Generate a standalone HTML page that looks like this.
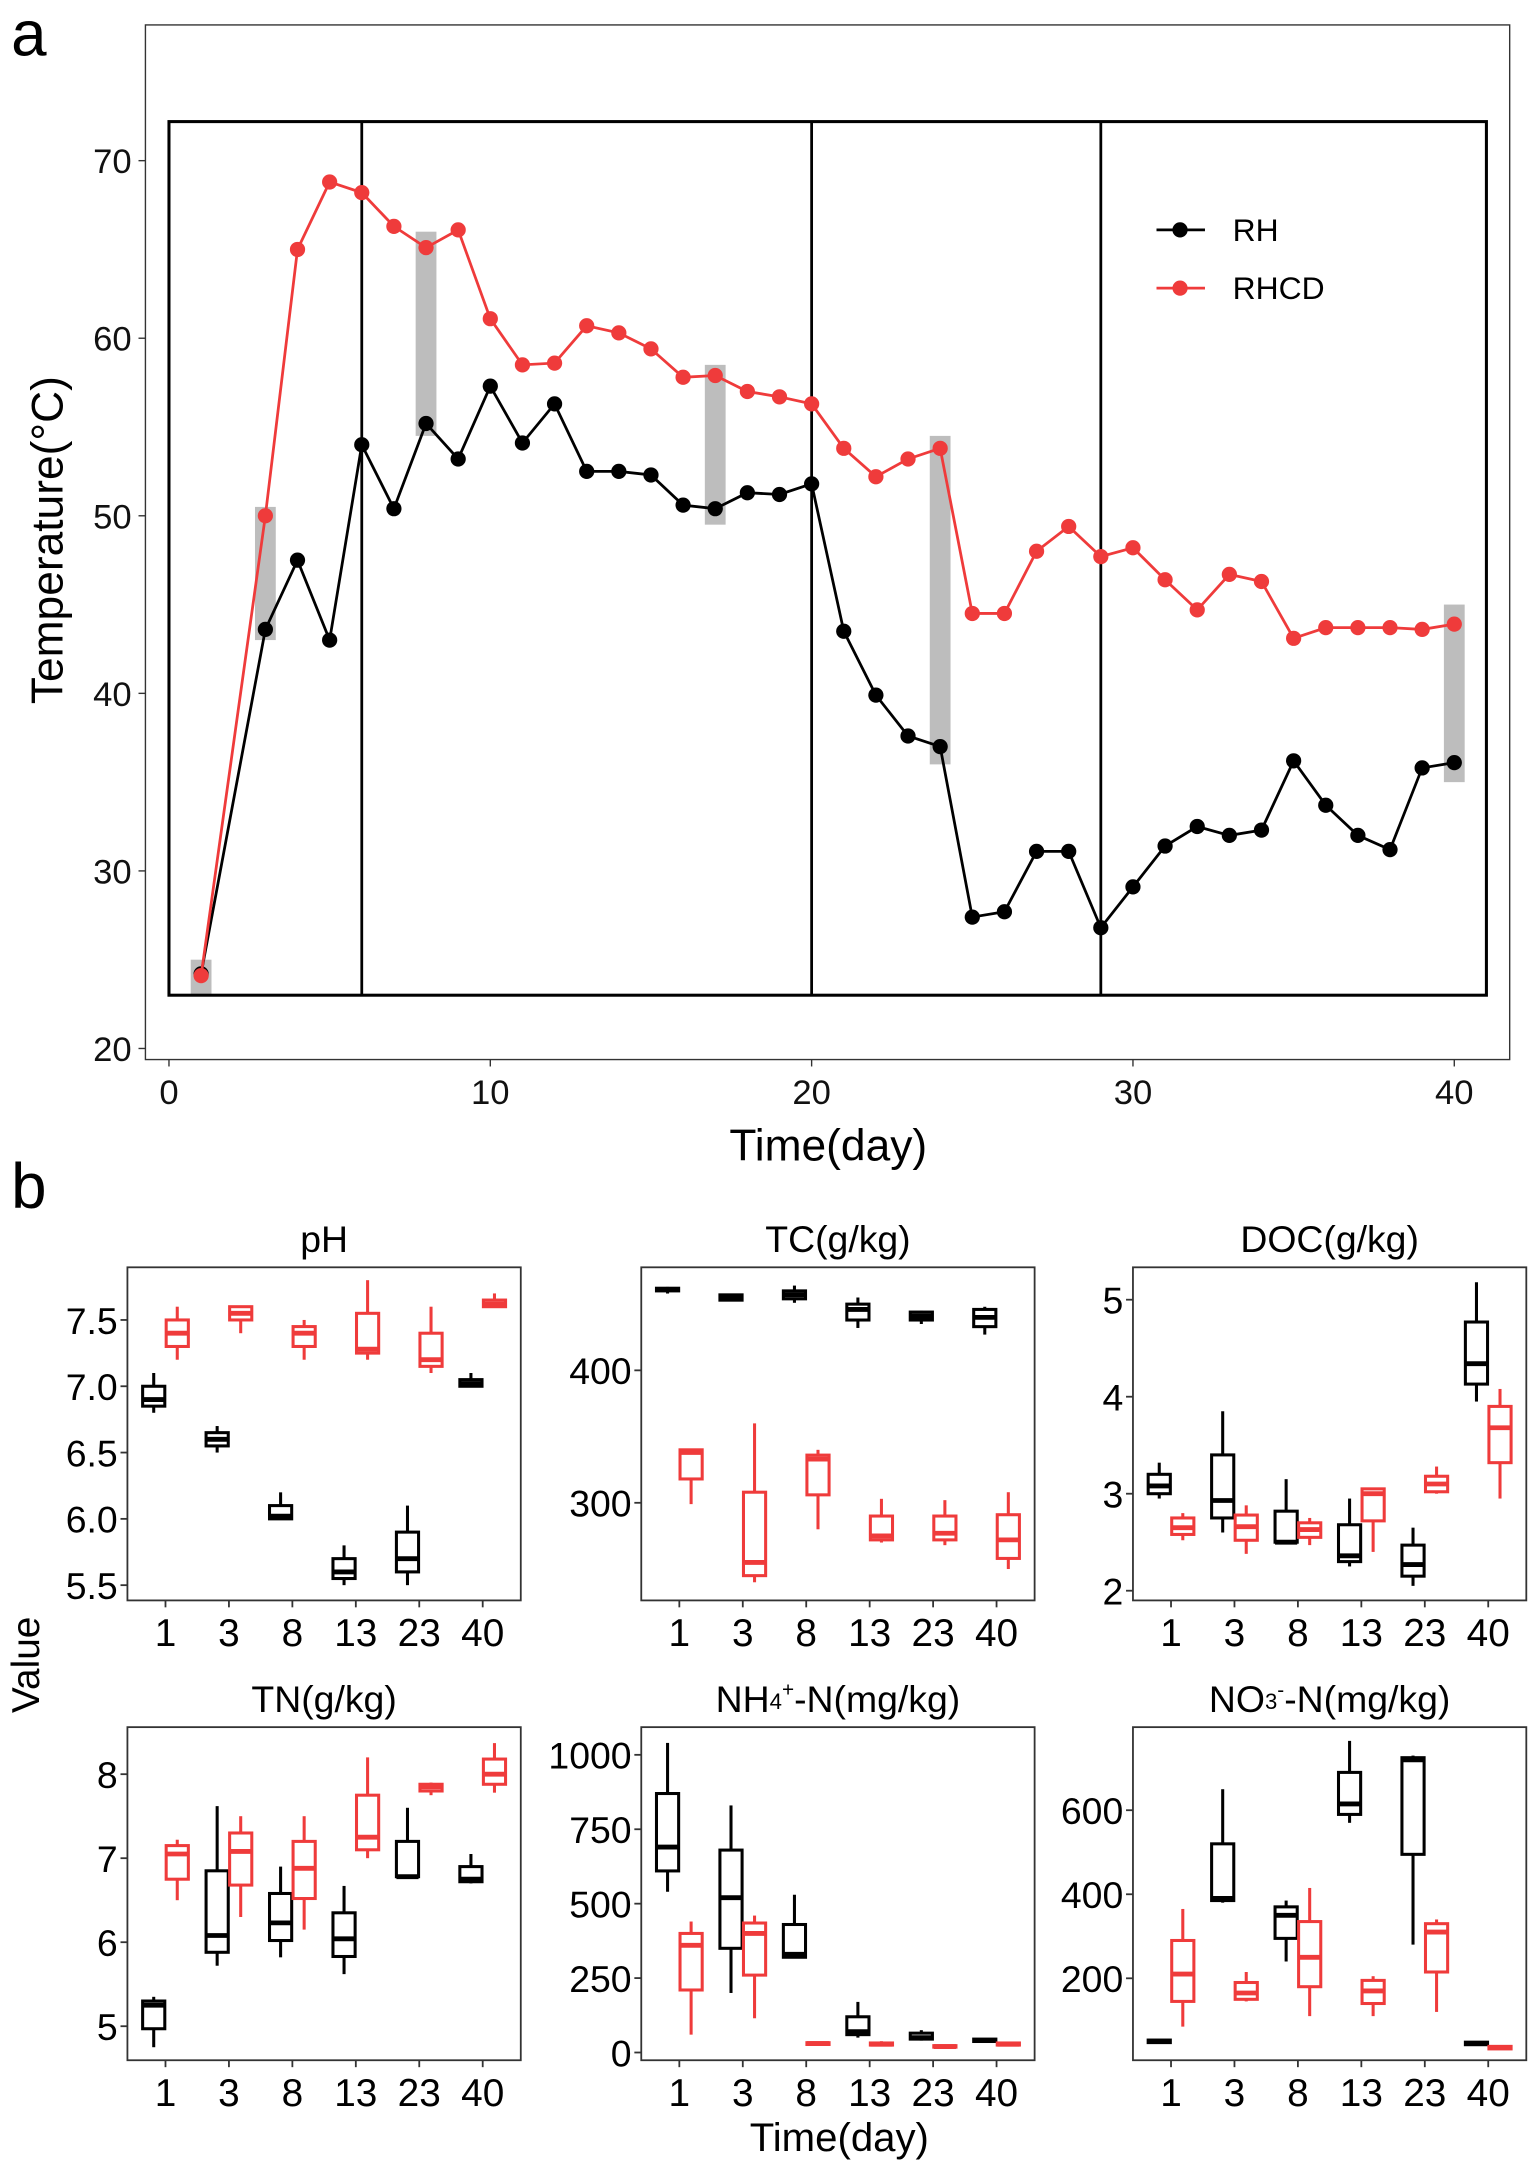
<!DOCTYPE html>
<html><head><meta charset="utf-8"><style>
html,body{margin:0;padding:0;background:#fff;}
svg{display:block;font-family:"Liberation Sans",Arial,sans-serif;}
</style></head><body>
<svg id="fig" width="1536" height="2168" viewBox="0 0 1109 1565.3" preserveAspectRatio="none" xmlns="http://www.w3.org/2000/svg"></svg>
<script>
// ---------- Panel a data ----------
const days = [1,3,4,5,6,7,8,9,10,11,12,13,14,15,16,17,18,19,20,21,22,23,24,25,26,27,28,29,30,31,32,33,34,35,36,37,38,39,40];
const rhTemp = [24.2,43.6,47.5,43,54,50.4,55.2,53.2,57.3,54.1,56.3,52.5,52.5,52.3,50.6,50.4,51.3,51.2,51.8,43.5,39.9,37.6,37,27.4,27.7,31.1,31.1,26.8,29.1,31.4,32.5,32,32.3,36.2,33.7,32,31.2,35.8,36.1];
const rhcdTemp = [24.1,50,65,68.8,68.2,66.3,65.1,66.1,61.1,58.5,58.6,60.7,60.3,59.4,57.8,57.9,57,56.7,56.3,53.8,52.2,53.2,53.8,44.5,44.5,48,49.4,47.7,48.2,46.4,44.7,46.7,46.3,43.1,43.7,43.7,43.7,43.6,43.9];
const greyDays = [1,3,8,17,24,40];
const greyLow = [23,43,54.5,49.5,36,35];
const greyHigh = [25,50.5,66,58.5,54.5,45];
const phaseDays = [6,20,29];
const xTicksA = [0,10,20,30,40];
const yTicksA = [20,30,40,50,60,70];

// ---------- Panel b data ----------
const cats = ["1","3","8","13","23","40"];
const phRH = [[6.8,6.85,6.9,7.0,7.1],[6.5,6.55,6.6,6.65,6.7],[6.0,6.0,6.02,6.1,6.2],[5.5,5.55,5.6,5.7,5.8],[5.5,5.6,5.7,5.9,6.1],[7.0,7.0,7.02,7.05,7.1]];
const phRHCD = [[7.2,7.3,7.4,7.5,7.6],[7.4,7.5,7.55,7.6,7.6],[7.2,7.3,7.4,7.45,7.5],[7.2,7.25,7.28,7.55,7.8],[7.1,7.15,7.2,7.4,7.6],[7.6,7.6,7.62,7.65,7.7]];
const tcRH = [[458,460,461,462,463],[452,453,455,457,458],[451,454,457,460,464],[432,438,446,450,455],[435,438,441,444,445],[427,433,440,446,448]];
const tcRHCD = [[299,318,338,340,340],[240,245,255,308,360],[280,306,333,336,340],[270,272,275,290,303],[268,272,277,290,302],[250,258,272,291,308]];
const docRH = [[2.95,3.0,3.08,3.2,3.32],[2.6,2.75,2.93,3.4,3.85],[2.5,2.5,2.5,2.82,3.15],[2.25,2.3,2.36,2.68,2.95],[2.05,2.15,2.27,2.47,2.65],[3.95,4.13,4.34,4.77,5.18]];
const docRHCD = [[2.52,2.58,2.65,2.75,2.8],[2.38,2.52,2.66,2.78,2.88],[2.47,2.55,2.63,2.7,2.75],[2.4,2.72,3.0,3.05,3.05],[3.0,3.02,3.1,3.18,3.28],[2.95,3.32,3.68,3.9,4.08]];
const tnRH = [[4.75,4.97,5.25,5.3,5.35],[5.72,5.88,6.08,6.85,7.62],[5.82,6.02,6.23,6.58,6.9],[5.62,5.83,6.04,6.35,6.67],[6.77,6.78,6.78,7.2,7.6],[6.7,6.72,6.75,6.9,7.05]];
const tnRHCD = [[6.5,6.75,7.05,7.15,7.22],[6.3,6.68,7.08,7.3,7.5],[6.15,6.52,6.88,7.2,7.5],[7.0,7.1,7.25,7.75,8.2],[7.75,7.8,7.85,7.88,7.9],[7.78,7.88,8.0,8.18,8.37]];
const nh4RH = [[540,610,690,870,1040],[200,350,520,680,830],[320,320,330,430,530],[50,60,70,120,170],[40,45,50,65,75],[35,37,40,45,48]];
const nh4RHCD = [[60,210,360,400,440],[115,260,400,435,460],[25,27,30,33,35],[22,25,28,32,38],[15,18,20,23,26],[22,25,28,32,35]];
const no3RH = [[45,47,50,53,55],[380,385,390,520,650],[240,295,350,370,385],[570,590,615,690,765],[280,495,720,725,730],[40,42,45,48,50]];
const no3RHCD = [[85,145,210,290,365],[145,150,165,190,215],[110,180,250,335,415],[110,140,170,195,205],[120,215,310,330,340],[30,32,35,38,40]];
const phTicks = [5.5,6.0,6.5,7.0,7.5];
const tcTicks = [300,400];
const docTicks = [2,3,4,5];
const tnTicks = [5,6,7,8];
const nh4Ticks = [0,250,500,750,1000];
const no3Ticks = [200,400,600];

const NS = "http://www.w3.org/2000/svg";
const svg = document.getElementById('fig');
function mk(tag, attrs, parent){
  const e = document.createElementNS(NS, tag);
  for (const k in attrs) e.setAttribute(k, attrs[k]);
  (parent||svg).appendChild(e);
  return e;
}
function txt(s, attrs, parent){ const e = mk('text', attrs, parent); e.textContent = s; return e; }

// ---------- Panel a ----------
const gA = mk('g', {});


const xA = d => 122 + d * 23.2;
const yA = v => 116 + (70 - v) * 12.82;
let el;
el = txt('a', {x:8, y:40, 'font-size':46, fill:'#000'});


el = mk('rect', {x:105, y:18, width:985, height:747, fill:'none', stroke:'#333', 'stroke-width':1}, gA);


greyDays.forEach((d,i)=>{
  const r = mk('rect', {x:xA(d)-7.5, y:yA(greyHigh[i]), width:15, height:yA(greyLow[i])-yA(greyHigh[i]), fill:'#bdbdbd'}, gA);
  
  
});
el = mk('rect', {x:xA(0), y:yA(72.2), width:xA(41)-xA(0), height:yA(23)-yA(72.2), fill:'none', stroke:'#000', 'stroke-width':2.2}, gA);


phaseDays.forEach(d=>{
  const l = mk('line', {x1:xA(d), x2:xA(d), y1:yA(72.2), y2:yA(23), stroke:'#000', 'stroke-width':2}, gA);
  
  
});
yTicksA.forEach(v=>{
  mk('line', {x1:100, x2:105, y1:yA(v), y2:yA(v), stroke:'#333', 'stroke-width':1}, gA);
  const t = txt(String(v), {x:95, y:yA(v)+9, 'text-anchor':'end', 'font-size':25, fill:'#111'}, gA);
  
  
});
xTicksA.forEach(v=>{
  mk('line', {x1:xA(v), x2:xA(v), y1:765, y2:770, stroke:'#333', 'stroke-width':1}, gA);
  const t = txt(String(v), {x:xA(v), y:797, 'text-anchor':'middle', 'font-size':25, fill:'#111'}, gA);
  
  
});
el = txt('Time(day)', {x:598, y:838, 'text-anchor':'middle', 'font-size':32, fill:'#000'}, gA);


el = txt('Temperature(°C)', {x:0, y:0, 'text-anchor':'middle', 'font-size':32, fill:'#000', transform:'translate(45,390) rotate(-90)'}, gA);


function series(vals, color, name){
  const g = mk('g', {}, gA);
  
  
  mk('polyline', {points: days.map((d,i)=>xA(d)+','+yA(vals[i])).join(' '), fill:'none', stroke:color, 'stroke-width':2}, g);
  days.forEach((d,i)=>{
    const c = mk('circle', {cx:xA(d), cy:yA(vals[i]), r:5.5, fill:color}, g);
    
    
  });
}
series(rhTemp, '#000', 'rh');
series(rhcdTemp, '#ef3b3b', 'rhcd');
[['RH','#000',166],['RHCD','#ef3b3b',208]].forEach(([n,c,y])=>{
  const g = mk('g', {}, gA);
  
  
  mk('line', {x1:835, x2:870, y1:y, y2:y, stroke:c, 'stroke-width':2}, g);
  mk('circle', {cx:852, cy:y, r:5.5, fill:c}, g);
  txt(n, {x:890, y:y+8, 'font-size':23, fill:'#000'}, g);
});

// ---------- Panel b ----------
el = txt('b', {x:8, y:872, 'font-size':46, fill:'#000'});


el = txt('Value', {x:0, y:0, 'text-anchor':'middle', 'font-size':28, fill:'#000', transform:'translate(28,1202) rotate(-90)'});


el = txt('Time(day)', {x:606, y:1553, 'text-anchor':'middle', 'font-size':29, fill:'#000'});



const colsX = [92, 463, 818];
const rowsY = [915, 1247];
const PW = 284, PH = 240.5;
function panel(title, name, col, row, dmin, dmax, ticks, fmt, rh, rhcd){
  const L = colsX[col], T = rowsY[row];
  const g = mk('g', {});
  
  
  const y = v => T + PH - (v - dmin) / (dmax - dmin) * PH;
  const band = PW / 6.2;
  const cx = i => L + (i + 0.6) * band;
  const t = mk('text', {x:L+PW/2, y:T-11, 'text-anchor':'middle', 'font-size':27, fill:'#000'}, g);
  t.innerHTML = title;
  
  
  ticks.forEach(v=>{
    mk('line', {x1:L-5, x2:L, y1:y(v), y2:y(v), stroke:'#333', 'stroke-width':1.3}, g);
    const tl = txt(fmt(v), {x:L-7, y:y(v)+10, 'text-anchor':'end', 'font-size':27, fill:'#000'}, g);
    
    
  });
  cats.forEach((c,i)=>{
    mk('line', {x1:cx(i), x2:cx(i), y1:T+PH, y2:T+PH+5, stroke:'#333', 'stroke-width':1.3}, g);
    const tl = txt(c, {x:cx(i), y:T+PH+33, 'text-anchor':'middle', 'font-size':28, fill:'#000'}, g);
    
    
  });
  function box(s, xc, color, nm){
    const b = mk('g', {}, g);
    
    
    const w = 16;
    mk('line', {x1:xc, x2:xc, y1:y(s[0]), y2:y(s[1]), stroke:color, 'stroke-width':2.2}, b);
    mk('line', {x1:xc, x2:xc, y1:y(s[3]), y2:y(s[4]), stroke:color, 'stroke-width':2.2}, b);
    mk('rect', {x:xc-w/2, y:y(s[3]), width:w, height:Math.max(0.5, y(s[1])-y(s[3])), fill:'#fff', stroke:color, 'stroke-width':2.2}, b);
    mk('line', {x1:xc-w/2, x2:xc+w/2, y1:y(s[2]), y2:y(s[2]), stroke:color, 'stroke-width':3.5}, b);
  }
  rh.forEach((s,i)=> box(s, cx(i)-8.5, '#000', name + '-rh-box-' + cats[i]));
  rhcd.forEach((s,i)=> box(s, cx(i)+8.5, '#ef3b3b', name + '-rhcd-box-' + cats[i]));
  const fr = mk('rect', {x:L, y:T, width:PW, height:PH, fill:'none', stroke:'#333', 'stroke-width':1.3}, g);
  
  
}
const f1 = v => v.toFixed(1), f0 = v => String(v);
panel('pH', 'ph', 0, 0, 5.385, 7.897, phTicks, f1, phRH, phRHCD);
panel('TC(g/kg)', 'tc', 1, 0, 226.3, 477.8, tcTicks, f0, tcRH, tcRHCD);
panel('DOC(g/kg)', 'doc', 2, 0, 1.90, 5.334, docTicks, f0, docRH, docRHCD);
panel('TN(g/kg)', 'tn', 0, 1, 4.595, 8.56, tnTicks, f0, tnRH, tnRHCD);
panel('NH<tspan font-size="16" dy="-2">4</tspan><tspan font-size="15" dy="-9">+</tspan><tspan dy="11">-N(mg/kg)</tspan>', 'nh4', 1, 1, -26, 1093, nh4Ticks, f0, nh4RH, nh4RHCD);
panel('NO<tspan font-size="16" dy="-2">3</tspan><tspan font-size="15" dy="-9">-</tspan><tspan dy="11">-N(mg/kg)</tspan>', 'no3', 2, 1, 5, 797.7, no3Ticks, f0, no3RH, no3RHCD);
</script>
</body></html>
